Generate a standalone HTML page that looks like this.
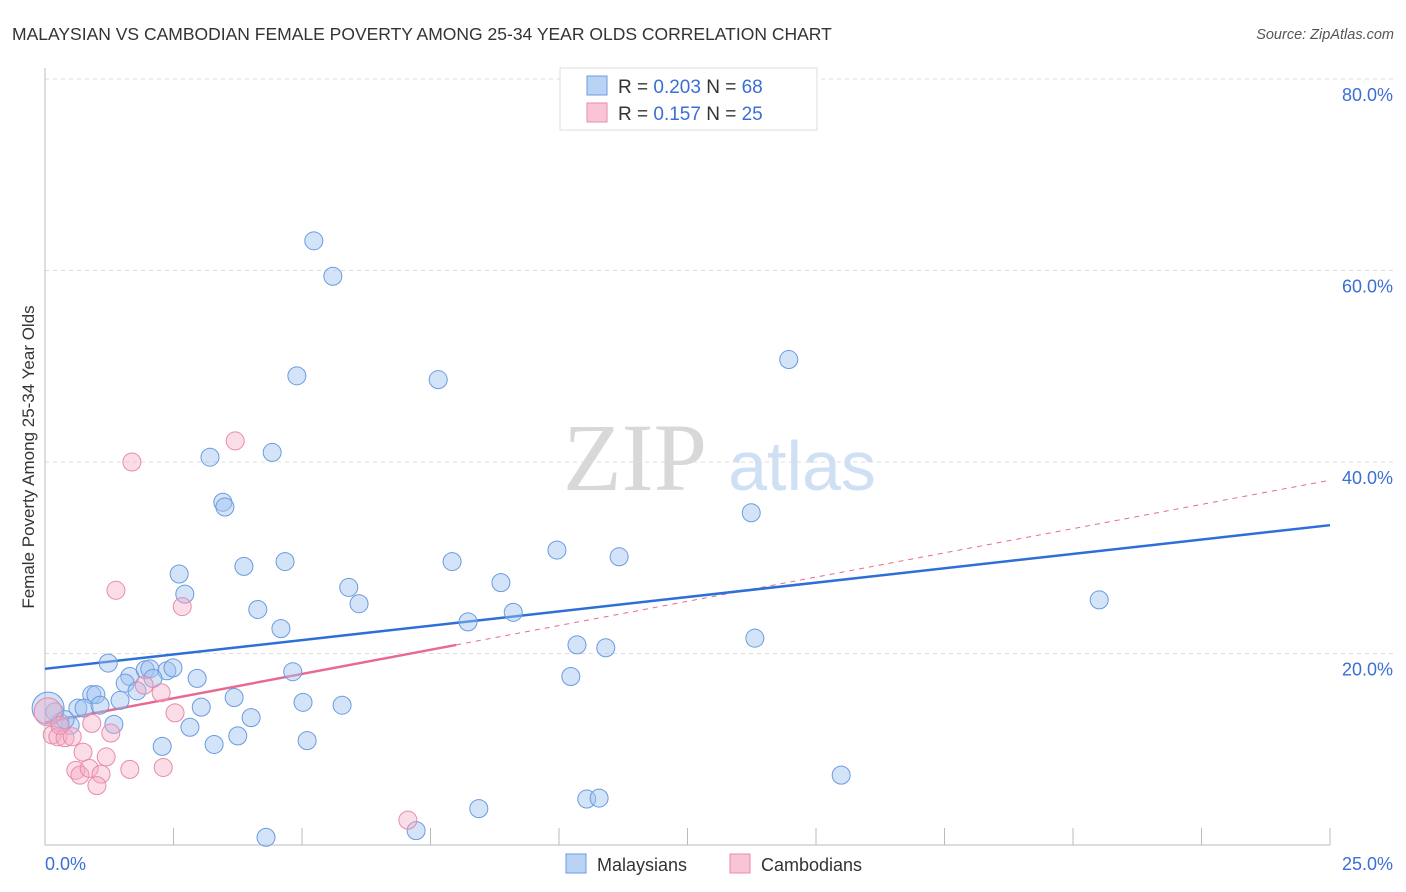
<!DOCTYPE html>
<html><head><meta charset="utf-8"><style>
body{margin:0;background:#fff;font-family:"Liberation Sans",sans-serif;}
svg{display:block}
</style></head><body>
<svg id="chart" width="1406" height="892">
<text x="12" y="40" font-size="17.5" fill="#333">MALAYSIAN VS CAMBODIAN FEMALE POVERTY AMONG 25-34 YEAR OLDS CORRELATION CHART</text>
<text x="1394" y="39" font-size="14.5" fill="#555" font-style="italic" text-anchor="end">Source: ZipAtlas.com</text>
<text x="0" y="0" transform="translate(34,457) rotate(-90)" font-size="17" fill="#333" text-anchor="middle">Female Poverty Among 25-34 Year Olds</text>
<g><text x="635" y="490" font-family="Liberation Serif,serif" font-size="96" fill="#d8d8d8" text-anchor="middle">ZIP</text><text x="802" y="490" font-size="70" fill="#cfe0f5" text-anchor="middle">atlas</text></g>
<g id="grid"></g><g id="axes"></g><g id="trend"></g><g id="pts"></g>
<g>
<rect x="560" y="68" width="257" height="62" fill="#fff" stroke="#ddd"/>
<rect x="587" y="76" width="20" height="19" fill="#b9d3f5" stroke="#6a9be0"/>
<rect x="587" y="103" width="20" height="19" fill="#f9c5d5" stroke="#e98aaa"/>
<text x="618" y="93" font-size="19" fill="#333">R = <tspan fill="#3b6fd4">0.203</tspan>   N = <tspan fill="#3b6fd4">68</tspan></text>
<text x="618" y="120" font-size="19" fill="#333">R =  <tspan fill="#3b6fd4">0.157</tspan>   N = <tspan fill="#3b6fd4">25</tspan></text>
</g>
<g>
<rect x="566" y="854" width="20" height="19" fill="#b9d3f5" stroke="#6a9be0"/>
<text x="597" y="871" font-size="18" fill="#333">Malaysians</text>
<rect x="730" y="854" width="20" height="19" fill="#f9c5d5" stroke="#e98aaa"/>
<text x="761" y="871" font-size="18" fill="#333">Cambodians</text>
</g>
</svg>
<script>
const yTicks=[20,40,60,80];
const yTickLabels=["20.0%","40.0%","60.0%","80.0%"];
const xTickLabels=["0.0%","25.0%"];
const malX=[5.23,5.60,4.90,7.65,14.47,3.21,4.42,3.46,3.50,3.87,4.67,2.61,2.72,4.14,4.59,5.91,6.11,7.92,8.87,9.11,9.96,11.17,8.23,10.35,10.91,10.23,13.74,13.81,20.51,15.49,10.54,10.78,8.44,7.22,4.30,1.23,1.65,1.95,2.04,2.37,2.49,2.10,1.56,1.79,0.91,0.99,2.96,4.82,3.68,5.02,5.78,3.04,1.46,0.64,0.76,1.07,1.34,4.01,2.82,3.75,2.28,3.29,5.10,0.49,0.29,0.19,0.06,0.39];
const malY=[63.1,59.4,49.0,48.6,50.7,40.5,41.0,35.8,35.3,29.1,29.6,28.3,26.2,24.6,22.6,26.9,25.2,29.6,27.4,24.3,30.8,30.1,23.3,20.9,20.6,17.6,34.7,21.6,25.6,7.3,4.8,4.9,3.8,1.5,0.8,19.0,17.6,18.3,18.4,18.2,18.5,17.4,16.9,16.1,15.7,15.7,17.4,18.1,15.4,14.9,14.6,14.4,15.1,14.3,14.3,14.6,12.6,13.3,12.3,11.4,10.3,10.5,10.9,12.5,12.8,13.9,14.3,13.1];
const camX=[1.69,3.70,1.38,2.67,1.93,2.26,2.53,0.91,1.28,0.74,1.19,0.60,0.68,0.86,1.09,1.01,1.65,2.30,7.06,0.14,0.25,0.39,0.53,0.06,0.29];
const camY=[40.0,42.2,26.6,24.9,16.7,15.9,13.8,12.7,11.7,9.7,9.2,7.8,7.3,8.0,7.4,6.2,7.9,8.1,2.6,11.5,11.3,11.2,11.3,13.9,12.5];
const malTrend=[18.4,33.4]; // value at x=0 and x=25
const camTrend=[12.8,38.1];
const camSolidEnd=8.0;
const X0=45,X1=1330,Y0=845,PPY=9.575;
const sx=v=>X0+(X1-X0)*v/25, sy=v=>Y0-v*PPY;
const NS="http://www.w3.org/2000/svg";
function mk(t,a,p){const e=document.createElementNS(NS,t);for(const k in a)e.setAttribute(k,a[k]);p.appendChild(e);return e;}
const grid=document.getElementById('grid'),axes=document.getElementById('axes'),tr=document.getElementById('trend'),pts=document.getElementById('pts');
yTicks.forEach((t,i)=>{const l=mk('line',{x1:X0,x2:1394,y1:sy(t),y2:sy(t),stroke:'#ddd','stroke-dasharray':'4,4'},grid);


const tx=mk('text',{x:1393,y:sy(t)+22,'font-size':18,fill:'#3b6fd4','text-anchor':'end'},axes);tx.textContent=yTickLabels[i];

});
const ax=mk('path',{d:`M${X0} 68V${Y0}H${X1}`,stroke:'#bbb',fill:'none'},axes);


for(let i=1;i<=10;i++){const t=mk('line',{x1:sx(i*2.5),x2:sx(i*2.5),y1:828,y2:Y0,stroke:'#bbb'},axes);

}
const xl0=mk('text',{x:45,y:870,'font-size':18,fill:'#3b6fd4'},axes);xl0.textContent=xTickLabels[0];


const xl1=mk('text',{x:1393,y:870,'font-size':18,fill:'#3b6fd4','text-anchor':'end'},axes);xl1.textContent=xTickLabels[1];


const cy=v=>camTrend[0]+(camTrend[1]-camTrend[0])*v/25;
const cd=mk('line',{x1:sx(camSolidEnd),y1:sy(cy(camSolidEnd)),x2:sx(25),y2:sy(cy(25)),stroke:'#e86a93','stroke-dasharray':'5,5','stroke-width':1},tr);


function dot(x,y,f,s,r,name){const c=mk('circle',{cx:sx(x),cy:sy(y),r:r,fill:f,stroke:s,'stroke-width':1},pts);

}
malX.forEach((x,i)=>dot(x,malY[i],'rgba(160,195,240,0.45)','#6a9be0',i==malX.length-2?16:9,'malaysian-point'));
camX.forEach((x,i)=>dot(x,camY[i],'rgba(245,170,195,0.4)','#e98aaa',i==camX.length-2?14:9,'cambodian-point'));
const bl=mk('line',{x1:sx(0),y1:sy(malTrend[0]),x2:sx(25),y2:sy(malTrend[1]),stroke:'#2d6fd6','stroke-width':2.5},tr);


const cl=mk('line',{x1:sx(0),y1:sy(cy(0)),x2:sx(camSolidEnd),y2:sy(cy(camSolidEnd)),stroke:'#e86a93','stroke-width':2.5},tr);


</script>
</body></html>
